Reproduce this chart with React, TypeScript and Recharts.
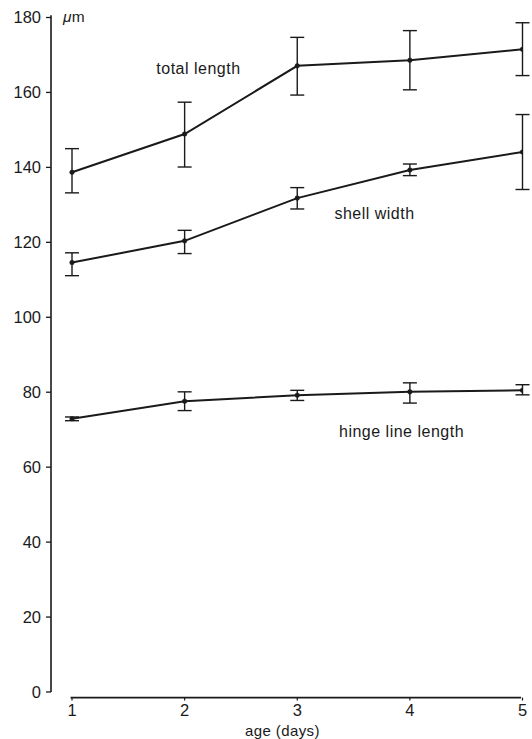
import React from 'react';
import { LineChart, Line, XAxis, YAxis, ErrorBar, ReferenceLine, ReferenceDot } from 'recharts';

const ages = [1, 2, 3, 4, 5];
const totalLength = [138.7, 148.9, 167.1, 168.6, 171.5];
const totalLengthErr: [number, number][] = [[5.5, 6.3], [8.8, 8.5], [7.8, 7.6], [7.9, 7.9], [7.0, 7.1]];
const shellWidth = [114.6, 120.4, 131.8, 139.3, 144.1];
const shellWidthErr: [number, number][] = [[3.5, 2.6], [3.4, 2.8], [2.9, 2.8], [1.5, 1.6], [10.0, 10.0]];
const hingeLength = [72.9, 77.6, 79.2, 80.1, 80.5];
const hingeLengthErr: [number, number][] = [[0.5, 0.5], [2.5, 2.5], [1.4, 1.3], [3.0, 2.4], [1.2, 1.5]];
const xTicks = [1, 2, 3, 4, 5];
const yTicks = [0, 20, 40, 60, 80, 100, 120, 140, 160, 180];

const data = ages.map((a, i) => ({
  age: a,
  total: totalLength[i],
  totalErr: totalLengthErr[i],
  shell: shellWidth[i],
  shellErr: shellWidthErr[i],
  hinge: hingeLength[i],
  hingeErr: hingeLengthErr[i],
}));

const INK = '#1a1a1a';
const FONT = '"Liberation Sans", Arial, Helvetica, sans-serif';

const annot = (txt: string, anchor: 'start' | 'middle' | 'end' = 'middle', size = 16, spacing = 0.5, italicFirst = false) =>
  (props: any) => {
    const vb = props.viewBox || {};
    const cx = (vb.x ?? 0) + (vb.width ?? 0) / 2;
    const cy = (vb.y ?? 0) + (vb.height ?? 0) / 2;
    return (
      <text x={cx} y={cy} textAnchor={anchor} dominantBaseline="central" fill={INK}
        style={{ fontFamily: FONT, fontSize: size, letterSpacing: spacing }}>
        {italicFirst ? (<><tspan fontStyle="italic">{txt[0]}</tspan>{txt.slice(1)}</>) : txt}
      </text>
    );
  };

const dot = { r: 2.3, fill: INK, stroke: INK, strokeWidth: 0.5 };

export default function App() {
  return (
    <div style={{ position: 'absolute', left: 0, top: 0, width: 532, height: 739, background: '#fff' }}>
      <LineChart width={532} height={739} data={data} margin={{ top: 17.5, right: 9.5, bottom: 0, left: 0 }}>
        <XAxis dataKey="age" type="number" domain={[0.8135, 5]} ticks={xTicks} allowDataOverflow
          axisLine={false} tickLine={{ stroke: INK, strokeWidth: 1.2 }} tickSize={3} tickMargin={3.6}
          height={41.4} tick={{ fill: INK, fontSize: 16.5, fontFamily: FONT }} />
        <YAxis type="number" domain={[-1.5, 180]} ticks={yTicks} allowDataOverflow
          axisLine={false} tickLine={{ stroke: INK, strokeWidth: 1.3 }} tickSize={5} tickMargin={5}
          width={51} tick={{ fill: INK, fontSize: 16.5, fontFamily: FONT }} />
        <ReferenceLine segment={[{ x: 0.8135, y: 0 }, { x: 0.8135, y: 180.6 }]} stroke={INK} strokeWidth={1.6} ifOverflow="visible" />
        <ReferenceLine segment={[{ x: 0.987, y: -1.5 }, { x: 4.987, y: -1.5 }]} stroke={INK} strokeWidth={1.6} ifOverflow="visible" />
        <Line type="linear" dataKey="total" stroke={INK} strokeWidth={2} dot={dot} isAnimationActive={false}>
          <ErrorBar dataKey="totalErr" width={7} stroke={INK} strokeWidth={1.4} direction="y" />
        </Line>
        <Line type="linear" dataKey="shell" stroke={INK} strokeWidth={2} dot={dot} isAnimationActive={false}>
          <ErrorBar dataKey="shellErr" width={7} stroke={INK} strokeWidth={1.4} direction="y" />
        </Line>
        <Line type="linear" dataKey="hinge" stroke={INK} strokeWidth={2} dot={dot} isAnimationActive={false}>
          <ErrorBar dataKey="hingeErr" width={7} stroke={INK} strokeWidth={1.4} direction="y" />
        </Line>
        <ReferenceDot x={0.92} y={180.4} r={1} fill="none" stroke="none" ifOverflow="visible" label={annot('μm', 'start', 15.5, 0.3, true)} />
        <ReferenceDot x={2.123} y={166.5} r={1} fill="none" stroke="none" ifOverflow="visible" label={annot('total length')} />
        <ReferenceDot x={3.686} y={127.8} r={1} fill="none" stroke="none" ifOverflow="visible" label={annot('shell width')} />
        <ReferenceDot x={3.926} y={69.4} r={1} fill="none" stroke="none" ifOverflow="visible" label={annot('hinge line length')} />
        <ReferenceDot x={2.869} y={-10.4} r={1} fill="none" stroke="none" ifOverflow="visible" label={annot('age (days)', 'middle', 15, 0.4)} />
      </LineChart>
    </div>
  );
}
